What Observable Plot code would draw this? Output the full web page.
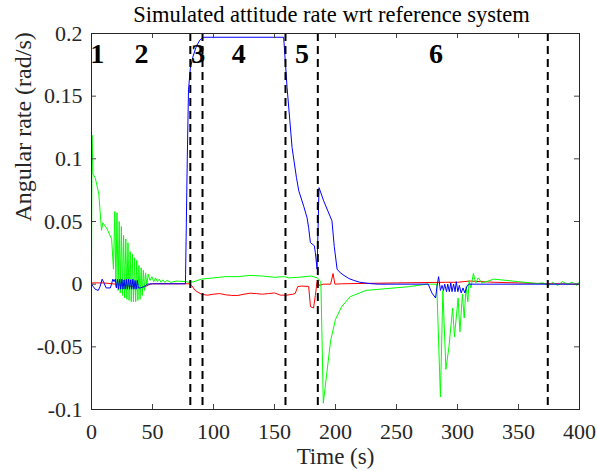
<!DOCTYPE html>
<html><head><meta charset="utf-8">
<script src="https://cdn.jsdelivr.net/npm/d3@7"></script>
<script src="https://cdn.jsdelivr.net/npm/@observablehq/plot@0.6"></script>
<style>body{margin:0;background:#fff}#chart{width:597px;height:471px}#chart svg text{font-family:'Liberation Serif','Times New Roman',serif !important;font-variant:normal !important}</style>
</head><body><div id="chart"></div>
<script>
const title = "Simulated attitude rate wrt reference system";
const xLabel = "Time (s)";
const yLabel = "Angular rate (rad/s)";
const xTicks = [0, 50, 100, 150, 200, 250, 300, 350, 400];
const yTicks = [-0.1, -0.05, 0, 0.05, 0.1, 0.15, 0.2];
const phaseBounds = [81, 91, 159, 185.5, 374];
const phaseNames = ["1", "2", "3", "4", "5", "6"];
const phaseLabelX = [4.7, 41, 87.4, 120.7, 172.6, 282.3];
const phaseLabelY = 0.1836;

const redT = [0, 10, 20, 25, 30, 35, 40, 44, 48, 50, 80, 82, 85, 90, 95, 100, 105, 110, 115, 120, 125, 130, 135, 140, 145, 150, 155, 160, 165, 167, 169, 172, 178, 179.5, 182, 183.5, 185, 186.5, 190, 196, 198, 199.5, 205, 250, 290, 300, 310, 330, 350, 370, 400];
const redV = [0.001, 0.001, 0, -0.001, -0.0015, -0.002, -0.003, -0.002, 0, 0.0003, 0.0003, -0.001, -0.005, -0.008, -0.0088, -0.008, -0.0075, -0.0085, -0.009, -0.009, -0.008, -0.0072, -0.0075, -0.008, -0.0075, -0.007, -0.0088, -0.0088, -0.008, -0.0074, -0.002, -0.0015, -0.0018, -0.018, -0.019, -0.009, 0.003, -0.001, 0, 0, 0.0085, 0, 0.0003, 0.001, 0.0015, 0.0015, 0.0025, 0.0015, 0.001, 0.0005, 0];

const greenT = [0, 0.4, 1.2, 3, 6, 8.2, 9.3, 12.8, 16.5, 18, 19.1, 20, 20.9, 21.8, 22.7, 23.6, 24.5, 25.4, 26.3, 27.2, 28.1, 29, 29.9, 30.8, 31.7, 32.6, 33.5, 34.4, 35.3, 36.2, 37.1, 38, 38.9, 39.8, 40.7, 41.6, 42.5, 43.4, 44.3, 45.3, 46.5, 48, 49.5, 51, 52.5, 54, 55.5, 57, 58.5, 60, 62, 65, 70, 78, 80, 81, 84, 90, 100, 110, 120, 130, 140, 150, 158, 162, 170, 180, 185, 186.5, 188, 190, 193, 196, 200, 205, 212, 225, 260, 275, 276.5, 278, 283, 286, 288, 290.5, 293, 296, 297.5, 300.5, 302, 304, 305.5, 307, 308.5, 309.5, 311, 313, 315, 317, 320, 330, 350, 360, 365, 370, 375, 378, 382, 386, 390, 394, 398, 400];
const greenV = [0, 0.119, 0.088, 0.085, 0.072, 0.043, 0.049, 0.044, 0.036, 0.012, 0.058, -0.002, 0.057, -0.005, 0.05, -0.007, 0.046, -0.009, 0.039, -0.011, 0.036, -0.012, 0.033, -0.013, 0.026, -0.014, 0.024, -0.014, 0.021, -0.014, 0.019, -0.013, 0.015, -0.012, 0.013, -0.009, 0.011, -0.005, 0.009, -0.001, 0.008, 0.003, 0.006, 0.002, 0.005, 0.002, 0.004, 0.0015, 0.0035, 0.0015, 0.003, 0.0015, 0.0025, 0.002, 0.0015, 0.0015, 0.002, 0.004, 0.005, 0.006, 0.006, 0.007, 0.0065, 0.0055, 0.006, 0.005, 0.0055, 0.0065, 0.005, 0.0035, 0.002, -0.095, -0.07, -0.045, -0.028, -0.018, -0.01, -0.005, -0.002, 0, 0, 0, 0, -0.09, -0.005, -0.068, -0.05, -0.019, -0.042, -0.011, -0.038, -0.008, -0.027, -0.002, -0.014, 0.003, -0.003, 0.0085, 0.001, 0.005, 0.001, 0.004, 0.002, 0.001, 0.0005, 0.001, -0.001, 0.0015, -0.001, 0.002, 0, 0.0015, -0.001, 0.002, 0, 0.001];

const blueT = [0, 1.5, 3, 5.5, 7, 8.7, 10, 12, 15.5, 17.5, 18.5, 19.5, 20.4, 21.3, 22.2, 23.1, 24, 24.9, 25.8, 26.7, 27.6, 28.5, 29.4, 30.3, 31.2, 32.1, 33, 33.9, 34.8, 35.7, 36.6, 37.5, 38.4, 40, 43, 46, 50, 77, 78.5, 79.5, 81, 83, 86, 89, 92, 157.5, 160.3, 164.4, 168, 169.9, 174, 176.7, 178, 179.4, 182.7, 183.5, 184.9, 186.5, 190.3, 197.1, 199, 201.3, 204, 207, 211, 215, 220, 228, 235, 276, 279, 282, 283.5, 284.5, 286, 287.3, 288.5, 289.5, 291, 292, 293.3, 294.5, 295.5, 296.8, 298, 299, 300.3, 301.5, 303, 304.5, 306, 308, 310, 400];
const blueV = [0, -0.002, -0.004, -0.005, -0.002, 0.004, 0.0015, -0.003, -0.003, 0.004, 0.002, 0.004, -0.003, 0.004, -0.004, 0.004, -0.004, 0.004, -0.004, 0.0035, -0.004, 0.004, -0.004, 0.004, -0.004, 0.0035, -0.004, 0.004, -0.004, 0.003, -0.004, 0.003, -0.003, -0.003, -0.002, 0, 0.0003, 0.0003, 0.1, 0.155, 0.172, 0.181, 0.19, 0.195, 0.197, 0.197, 0.157, 0.109, 0.085, 0.0745, 0.062, 0.053, 0.045, 0.0332, 0.0306, 0.025, 0.012, 0.077, 0.0665, 0.0505, 0.03, 0.012, 0.009, 0.007, 0.0045, 0.003, 0.0015, 0.0005, 0, 0, -0.007, -0.011, 0, 0.006, -0.005, -0.001, -0.005, 0, -0.006, 0, -0.006, 0.001, -0.006, 0, -0.006, 0.002, -0.006, -0.001, -0.007, -0.003, -0.007, -0.001, 0, 0];

const W = 597, H = 471, mL = 91, mR = 18, mT = 33, mB = 62;
const plotW = W - mL - mR, plotH = H - mT - mB;
const serif = "'Liberation Serif', 'Times New Roman', serif";

const chart = Plot.plot({
  width: W, height: H,
  marginLeft: mL, marginRight: mR, marginTop: mT, marginBottom: mB,
  style: {fontFamily: serif, fontSize: "21px", background: "#fff", color: "#262626"},
  x: {domain: [0, 400], axis: null},
  y: {domain: [-0.1, 0.2], axis: null},
  marks: [
    Plot.line(redT, {x: redT, y: redV, stroke: "#ff0000", strokeWidth: 1}),
    Plot.line(greenT, {x: greenT, y: greenV, stroke: "#00ff00", strokeWidth: 1}),
    Plot.line(blueT, {x: blueT, y: blueV, stroke: "#0000ff", strokeWidth: 1}),
    Plot.ruleX(phaseBounds, {x: d => d, stroke: "#000", strokeWidth: 2, strokeDasharray: "8,5"}),
    Plot.tickX(xTicks, {x: d => d, insetTop: plotH - 5, stroke: "#444"}),
    Plot.tickX(xTicks, {x: d => d, insetBottom: plotH - 5, stroke: "#444"}),
    Plot.tickY(yTicks, {y: d => d, insetRight: plotW - 5, stroke: "#444"}),
    Plot.tickY(yTicks, {y: d => d, insetLeft: plotW - 5, stroke: "#444"}),
    Plot.frame({stroke: "#262626"}),
    Plot.text(xTicks, {x: d => d, text: d => String(d), frameAnchor: "bottom", dy: 14, lineAnchor: "top", fontSize: 22, fontFamily: serif, fontVariant: "normal", fill: "#262626"}),
    Plot.text(yTicks, {y: d => d, text: d => String(d), frameAnchor: "left", dx: -9, textAnchor: "end", lineAnchor: "middle", fontSize: 22, fontFamily: serif, fontVariant: "normal", fill: "#262626"}),
    Plot.text(phaseNames, {x: phaseLabelX, y: phaseLabelY, text: d => d, fontWeight: "bold", fontSize: 28, fontFamily: serif, fill: "#000"}),
    Plot.text([title], {frameAnchor: "top", dy: -19, dx: -4, lineAnchor: "middle", fontSize: 22.5, fontFamily: serif, fill: "#000"}),
    Plot.text([xLabel], {frameAnchor: "bottom", dy: 47, lineAnchor: "middle", fontSize: 23, fontFamily: serif, fill: "#262626"}),
    Plot.text([yLabel], {frameAnchor: "left", dx: -68, rotate: -90, lineAnchor: "middle", fontSize: 24, fontFamily: serif, fill: "#262626"})
  ]
});
document.getElementById("chart").appendChild(chart);
</script>
</body></html>
